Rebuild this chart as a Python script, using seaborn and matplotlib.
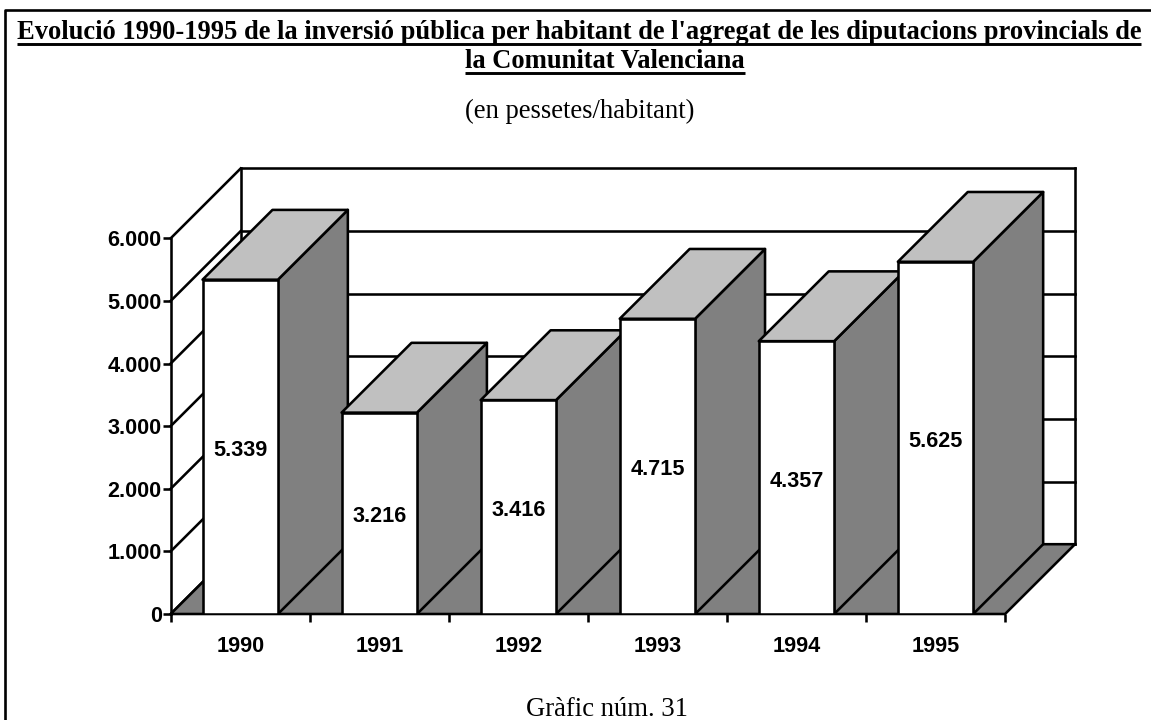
import pandas as pd
import seaborn as sns
import matplotlib.pyplot as plt
from matplotlib.lines import Line2D

years = ["1990", "1991", "1992", "1993", "1994", "1995"]
values = [5339, 3216, 3416, 4715, 4357, 5625]
value_labels = ["5.339", "3.216", "3.416", "4.715", "4.357", "5.625"]
y_ticks = [0, 1000, 2000, 3000, 4000, 5000, 6000]
y_tick_labels = ["0", "1.000", "2.000", "3.000", "4.000", "5.000", "6.000"]

title_1 = "Evolució 1990-1995 de la inversió pública per habitant de l'agregat de les diputacions provincials de"
title_2 = "la Comunitat Valenciana"
subtitle = "(en pessetes/habitant)"
footer = "Gràfic núm. 31"

W, H = 1151, 720
LW = 1.85
SIDE = "#808080"
TOP = "#c0c0c0"
LABEL_SIZE = 15.6

sns.set_style("white")
plt.rcParams["font.family"] = ["Liberation Sans", "DejaVu Sans"]
plt.rcParams["text.color"] = "black"
plt.rcParams["xtick.labelcolor"] = "black"
plt.rcParams["ytick.labelcolor"] = "black"

fig = plt.figure(figsize=(W / 100, H / 100), dpi=100)

# plot box in pixels, front floor corner to back wall top corner
left, right, bottom, top = 170.7, 1075.0, 614.0, 168.5
ax = fig.add_axes([left / W, 1 - bottom / H, (right - left) / W, (bottom - top) / H])

df = pd.DataFrame({"year": years, "value": values})
sns.barplot(data=df, x="year", y="value", color="white", saturation=1,
            width=0.542, edgecolor="black", linewidth=LW, ax=ax)

# depth of the fake 3d box in data units
dx = 70 / 139.2
dy = 70 / 0.0628
ax.set_xlim(-0.5, 5.5 + dx)
ax.set_ylim(0, 6000 + dy)

x0, x1 = -0.5, 5.5
line = dict(color="black", lw=LW, solid_capstyle="projecting", zorder=1, clip_on=False)

# walls
for v in y_ticks:
    ax.plot([x0, x0 + dx], [v, v + dy], **line)
    ax.plot([x0 + dx, x1 + dx], [v + dy, v + dy], **line)
ax.plot([x0, x0], [0, 6000], **line)
ax.plot([x0 + dx, x0 + dx], [dy, 6000 + dy], **line)
ax.plot([x1 + dx, x1 + dx], [dy, 6000 + dy], **line)

# floor
ax.fill([x0, x1, x1 + dx, x0 + dx], [0, 0, dy, dy], facecolor=SIDE,
        edgecolor="black", lw=LW, zorder=2, clip_on=False)

# bars left to right so each one hides the side of the previous one
for i, (bar, lab) in enumerate(zip(ax.patches, value_labels)):
    a = bar.get_x()
    b = a + bar.get_width()
    h = bar.get_height()
    z = 3 + i
    bar.set_zorder(z + 0.5)
    ax.fill([b, b + dx, b + dx, b], [0, dy, h + dy, h], facecolor=SIDE,
            edgecolor="black", lw=LW, joinstyle="round", zorder=z)
    ax.fill([a, a + dx, b + dx, b], [h, h + dy, h + dy, h], facecolor=TOP,
            edgecolor="black", lw=LW, joinstyle="round", zorder=z)
    ax.annotate(lab, (i, h / 2), xytext=(0, -2.5), textcoords="offset points",
                ha="center", va="center", fontsize=LABEL_SIZE, fontweight="bold", zorder=20)

sns.despine(ax=ax, left=True, bottom=True)
ax.patch.set_alpha(0)
ax.set(xlabel="", ylabel="")
ax.set_yticks(y_ticks, y_tick_labels, fontsize=LABEL_SIZE, fontweight="bold")
ax.set_xticks([i - 0.5 for i in range(7)], [""] * 7)
ax.set_xticks(range(6), years, minor=True, fontsize=LABEL_SIZE, fontweight="bold")
ax.tick_params(axis="both", which="major", length=5.5, width=LW, color="black",
               left=True, bottom=True, pad=1)
ax.tick_params(axis="x", which="minor", length=0, pad=16)


def put(x, y, s, **kw):
    return fig.text(x / W, 1 - y / H, s, family=["Liberation Serif", "DejaVu Serif"],
                    ha="center", va="baseline", **kw)


t1 = put(579, 39, title_1, fontsize=19.1, fontweight="bold")
t2 = put(605, 68, title_2, fontsize=19.1, fontweight="bold")
put(580, 118, subtitle, fontsize=19.2)
put(607, 716, footer, fontsize=19.2)

# matplotlib has no underlined text, so draw it under the measured title
fig.canvas.draw()
renderer = fig.canvas.get_renderer()
for t, y in [(t1, 43.5), (t2, 73)]:
    box = t.get_window_extent(renderer)
    fig.add_artist(Line2D([box.x0 / W, box.x1 / W], [1 - y / H, 1 - y / H],
                          color="black", lw=2.1, solid_capstyle="butt"))

# page frame, only top and left fall inside the picture
fig.add_artist(Line2D([5 / W, 5 / W, 1], [0, 1 - 10 / H, 1 - 10 / H],
                      color="black", lw=1.9))

fig.savefig("out.png", dpi=100)
